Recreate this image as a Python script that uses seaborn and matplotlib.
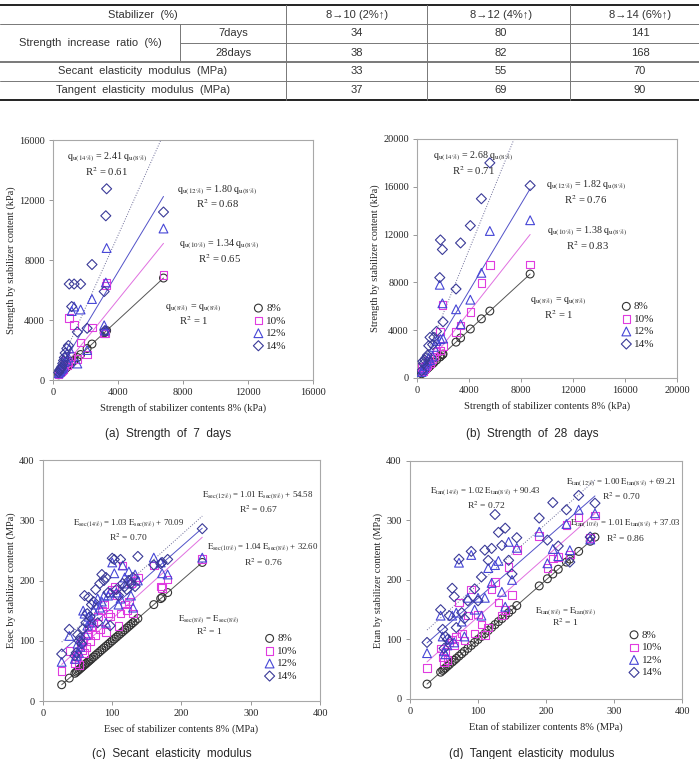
import numpy as np
import pandas as pd
import matplotlib
matplotlib.use('Agg')
import matplotlib.pyplot as plt
import seaborn as sns

# ---------------- table values ----------------
tbl_cols = ['8→10 (2%↑)', '8→12 (4%↑)', '8→14 (6%↑)']
ratio_7days = [34, 80, 141]
ratio_28days = [38, 82, 168]
secant_mod = [33, 55, 70]
tangent_mod = [37, 69, 90]

groups = ['8%', '10%', '12%', '14%']

# ---------------- (a) strength 7 days, kPa ----------------
a_x8 = [350, 400, 450, 500, 550, 600, 650, 700, 750, 850, 950, 1000, 1150, 1300,
        1500, 1700, 2100, 2400, 3150, 3200, 3250, 3300, 6800]
a_y10 = [400, 500, 550, 600, 650, 700, 800, 900, 1300, 1000, 1200, 4150, 1600, 3650,
         1400, 2500, 1700, 3500, 3100, 3150, 6300, 6500, 7000]
a_y12 = [450, 550, 600, 700, 750, 800, 900, 1200, 1600, 1300, 1500, 2100, 4600, 4900,
         1100, 4700, 2000, 5400, 3650, 3300, 6500, 8800, 10100]
a_y14 = [500, 650, 700, 800, 900, 1100, 1300, 1500, 1800, 2100, 2300, 6400, 4900, 6400,
         3200, 6400, 3450, 7700, 5900, 3300, 10950, 12750, 11200]
a_slope = [1.00, 1.34, 1.80, 2.41]
a_icpt = [0, 0, 0, 0]
a_r2 = ['1', '0.65', '0.68', '0.61']

# ---------------- (b) strength 28 days, kPa ----------------
b_x8 = [350, 450, 500, 600, 700, 800, 900, 1000, 1200, 1300, 1500, 1750, 1800, 1950,
        2000, 3000, 3350, 4100, 4950, 5600, 8700]
b_y10 = [900, 600, 700, 800, 1000, 1100, 1400, 1200, 1600, 1800, 2200, 3900, 2300, 6100,
         2700, 3850, 4400, 5500, 7950, 9450, 9500]
b_y12 = [500, 700, 800, 1000, 1200, 1400, 1700, 1500, 1800, 2600, 3100, 7800, 3250, 6250,
         3300, 5750, 4500, 6550, 8800, 12300, 13200]
b_y14 = [600, 1400, 1200, 1500, 1700, 1900, 2700, 3400, 2800, 3400, 3900, 8400, 11550, 10750,
         4700, 7450, 11300, 12750, 15000, 18000, 16100]
b_slope = [1.00, 1.38, 1.82, 2.68]
b_icpt = [0, 0, 0, 0]
b_r2 = ['1', '0.83', '0.76', '0.71']

# ---------------- (c) secant modulus, MPa ----------------
c_x8 = [27, 38, 46, 48, 50, 52, 54, 56, 58, 60, 62, 64, 66, 68, 70, 73, 76, 79, 82, 85, 88,
        91, 94, 97, 100, 103, 106, 109, 112, 115, 118, 121, 124, 127, 130, 133, 137,
        160, 170, 172, 180, 230]
c_y10 = [50, 83, 62, 70, 75, 60, 95, 85, 100, 80, 90, 110, 120, 100, 125, 130, 110, 140, 120,
         150, 160, 115, 145, 140, 185, 190, 175, 125, 145, 225, 160, 150, 165, 195, 145, 200,
         205, 225, 190, 188, 202, 236]
c_y12 = [65, 108, 70, 75, 95, 80, 90, 100, 150, 145, 110, 125, 140, 130, 135, 150, 160, 170,
         155, 165, 175, 130, 175, 180, 230, 212, 180, 160, 170, 225, 205, 195, 215, 175, 155,
         210, 200, 238, 230, 212, 210, 238]
c_y14 = [78, 119, 75, 80, 110, 100, 105, 95, 120, 175, 130, 145, 172, 140, 160, 165, 185, 130,
         195, 210, 200, 205, 180, 125, 237, 235, 185, 175, 235, 195, 190, 185, 200, 195, 205,
         190, 240, 226, 228, 230, 235, 286]
c_slope = [1.00, 1.04, 1.01, 1.03]
c_icpt = [0, 32.60, 54.58, 70.09]
c_r2 = ['1', '0.76', '0.67', '0.70']

# ---------------- (d) tangent modulus, MPa ----------------
d_x8 = [25, 45, 48, 50, 52, 55, 58, 62, 65, 68, 72, 76, 80, 85, 90, 95, 100, 105, 110, 115,
        120, 125, 130, 135, 140, 145, 150, 157, 190, 202, 210, 218, 230, 235, 248, 265, 272]
d_y10 = [52, 85, 70, 62, 80, 65, 95, 100, 90, 105, 162, 110, 98, 140, 184, 110, 142, 125, 108,
         120, 185, 197, 162, 140, 150, 222, 175, 250, 274, 220, 236, 239, 292, 243, 305, 270, 308]
d_y12 = [77, 140, 105, 80, 75, 90, 100, 140, 95, 145, 229, 130, 105, 170, 242, 150, 170, 140,
         170, 220, 195, 225, 232, 180, 155, 264, 200, 254, 281, 228, 252, 240, 294, 250, 318,
         268, 312]
d_y14 = [95, 150, 117, 85, 105, 100, 140, 186, 172, 120, 235, 145, 135, 165, 248, 185, 165, 205,
         250, 233, 253, 310, 280, 258, 287, 233, 210, 271, 304, 267, 330, 257, 318, 230, 342,
         272, 329]
d_slope = [1.00, 1.01, 1.00, 1.02]
d_icpt = [0, 37.03, 69.21, 90.43]
d_r2 = ['1', '0.86', '0.70', '0.72']

# ---------------- styles ----------------
markers = ['o', 's', '^', 'D']
msizes = [32, 30, 40, 26]
mcolors = ['#333333', '#E03CE0', '#4646D6', '#3A3A98']
lcolors = ['#555555', '#E070E0', '#5252C8', '#6A6A96']
lstyles = ['-', '-', '-', ':']

sns.set_style('white')
plt.rcParams['font.family'] = ['Liberation Serif', 'DejaVu Serif']
plt.rcParams['mathtext.fontset'] = 'stix'

fig = plt.figure(figsize=(6.99, 7.59), dpi=100)

# background axes in pixel coords for table + captions
bg = fig.add_axes([0, 0, 1, 1])
bg.set_xlim(0, 699)
bg.set_ylim(759, 0)
bg.axis('off')

sans = ['Liberation Sans', 'DejaVu Sans']
tcol = '#333333'
# horizontal rules
bg.plot([0, 699], [5, 5], color='#222222', lw=1.4)
bg.plot([0, 699], [24, 24], color='#777777', lw=0.7)
bg.plot([180, 699], [43, 43], color='#777777', lw=0.7)
bg.plot([0, 699], [62, 62], color='#555555', lw=1.1)
bg.plot([0, 699], [80.5, 80.5], color='#777777', lw=0.7)
bg.plot([0, 699], [100, 100], color='#222222', lw=1.4)
# vertical rules
bg.plot([180, 180], [24, 62], color='#777777', lw=0.7)
for xv in [286, 427, 570]:
    bg.plot([xv, xv], [5, 100], color='#777777', lw=0.7)

col_cx = [357, 501, 640]
row_cy = [33.5, 52.5, 71.5, 90]
rows = [ratio_7days, ratio_28days, secant_mod, tangent_mod]
bg.text(143, 15, 'Stabilizer  (%)', ha='center', va='center', fontsize=8, color=tcol, family=sans)
bg.text(90, 43, 'Strength  increase  ratio  (%)', ha='center', va='center', fontsize=8, color=tcol, family=sans)
bg.text(233, row_cy[0], '7days', ha='center', va='center', fontsize=8, color=tcol, family=sans)
bg.text(233, row_cy[1], '28days', ha='center', va='center', fontsize=8, color=tcol, family=sans)
bg.text(143, row_cy[2], 'Secant  elasticity  modulus  (MPa)', ha='center', va='center', fontsize=8, color=tcol, family=sans)
bg.text(143, row_cy[3], 'Tangent  elasticity  modulus  (MPa)', ha='center', va='center', fontsize=8, color=tcol, family=sans)
for j, lab in enumerate(tbl_cols):
    bg.text(col_cx[j], 15, lab, ha='center', va='center', fontsize=8, color=tcol, family=sans)
    for i, r in enumerate(rows):
        bg.text(col_cx[j], row_cy[i], str(r[j]), ha='center', va='center', fontsize=8, color=tcol, family=sans)

captions = ['(a)  Strength  of  7  days', '(b)  Strength  of  28  days',
            '(c)  Secant  elasticity  modulus', '(d)  Tangent  elasticity  modulus']
bg.text(168, 434, captions[0], ha='center', va='center', fontsize=8.5, family=sans)
bg.text(532, 434, captions[1], ha='center', va='center', fontsize=8.5, family=sans)
bg.text(172, 748, captions[2], ha='center', va='top', fontsize=8.5, family=sans)
bg.text(532, 748, captions[3], ha='center', va='top', fontsize=8.5, family=sans)


def sym(kind, p):
    if kind == 'q':
        return r'$\mathrm{q}_{\mathrm{u(%s\%%)}}$' % p
    return r'$\mathrm{E}_{\mathrm{%s(%s\%%)}}$' % (kind, p)


def panel(rect, x8, ys, slope, icpt, r2, lim, step, xlabel, ylabel, kind,
          eq_pos, leg_pos, eq_fs):
    ax = fig.add_axes(rect)
    series = [x8] + ys
    for k, g in enumerate(groups):
        sns.scatterplot(x=x8, y=series[k], ax=ax, marker=markers[k], s=msizes[k],
                        facecolor='none', edgecolor=mcolors[k], linewidth=0.8,
                        label=g, zorder=3)
    xs = np.array([min(x8), max(x8)], dtype=float)
    for k in range(4):
        ax.plot(xs, slope[k] * xs + icpt[k], color=lcolors[k], ls=lstyles[k], lw=0.7, zorder=2)
    ax.set_xlim(0, lim)
    ax.set_ylim(0, lim)
    ax.set_xticks(np.arange(0, lim + 1, step))
    ax.set_yticks(np.arange(0, lim + 1, step))
    ax.tick_params(direction='out', length=3, width=0.6, color='#888888',
                   labelsize=7.5, pad=3, left=True, bottom=True)
    for sp in ax.spines.values():
        sp.set_color('#A8A8A8')
        sp.set_linewidth(0.8)
    ax.set_xlabel(xlabel, fontsize=7.5, labelpad=4)
    ax.set_ylabel(ylabel, fontsize=7.5, labelpad=2)
    base = sym(kind, '8')
    for k in range(4):
        if k == 0:
            eq = base + ' = ' + base
        else:
            eq = sym(kind, groups[k][:-1]) + ' = %.2f ' % slope[k] + base
            if icpt[k]:
                eq += ' + %.2f' % icpt[k]
        ex, ey, ry = eq_pos[k]
        ax.text(ex, ey, eq, transform=ax.transAxes, ha='center', va='center', fontsize=eq_fs)
        ax.text(ex, ry, r'R$^2$ = ' + r2[k], transform=ax.transAxes, ha='center',
                va='center', fontsize=eq_fs + 0.5)
    ax.legend(loc='upper left', bbox_to_anchor=leg_pos, frameon=False, fontsize=8,
              handletextpad=0.0, labelspacing=0.25, borderaxespad=0, borderpad=0,
              handlelength=1.4)
    return ax


panel([0.0758, 0.4993, 0.3720, 0.3162], a_x8, [a_y10, a_y12, a_y14], a_slope, a_icpt, a_r2,
      16000, 4000, 'Strength of stabilizer contents 8% (kPa)', 'Strength by stabilizer content (kPa)',
      'q', [(0.54, 0.30, 0.246), (0.64, 0.567, 0.508), (0.632, 0.79, 0.735), (0.207, 0.93, 0.867)],
      (0.76, 0.32), 7.2)
panel([0.5966, 0.5020, 0.3720, 0.3149], b_x8, [b_y10, b_y12, b_y14], b_slope, b_icpt, b_r2,
      20000, 4000, 'Strength of stabilizer contents 8% (kPa)', 'Strength by stabilizer content (kPa)',
      'q', [(0.544, 0.319, 0.264), (0.655, 0.612, 0.552), (0.649, 0.8075, 0.748), (0.215, 0.929, 0.867)],
      (0.775, 0.32), 7.2)
panel([0.0615, 0.0764, 0.3963, 0.3175], c_x8, [c_y10, c_y12, c_y14], c_slope, c_icpt, c_r2,
      400, 100, 'Esec of stabilizer contents 8% (MPa)', 'Esec by stabilizer content (MPa)',
      'sec', [(0.60, 0.336, 0.288), (0.795, 0.634, 0.575), (0.777, 0.852, 0.797), (0.308, 0.733, 0.678)],
      (0.79, 0.28), 6.3)
panel([0.5866, 0.0791, 0.3891, 0.3136], d_x8, [d_y10, d_y12, d_y14], d_slope, d_icpt, d_r2,
      400, 100, 'Etan of stabilizer contents 8% (MPa)', 'Etan by stabilizer content (MPa)',
      'tan', [(0.572, 0.367, 0.32), (0.793, 0.734, 0.675), (0.775, 0.906, 0.853), (0.278, 0.871, 0.815)],
      (0.795, 0.29), 6.3)

fig.savefig('out.png', dpi=100)
